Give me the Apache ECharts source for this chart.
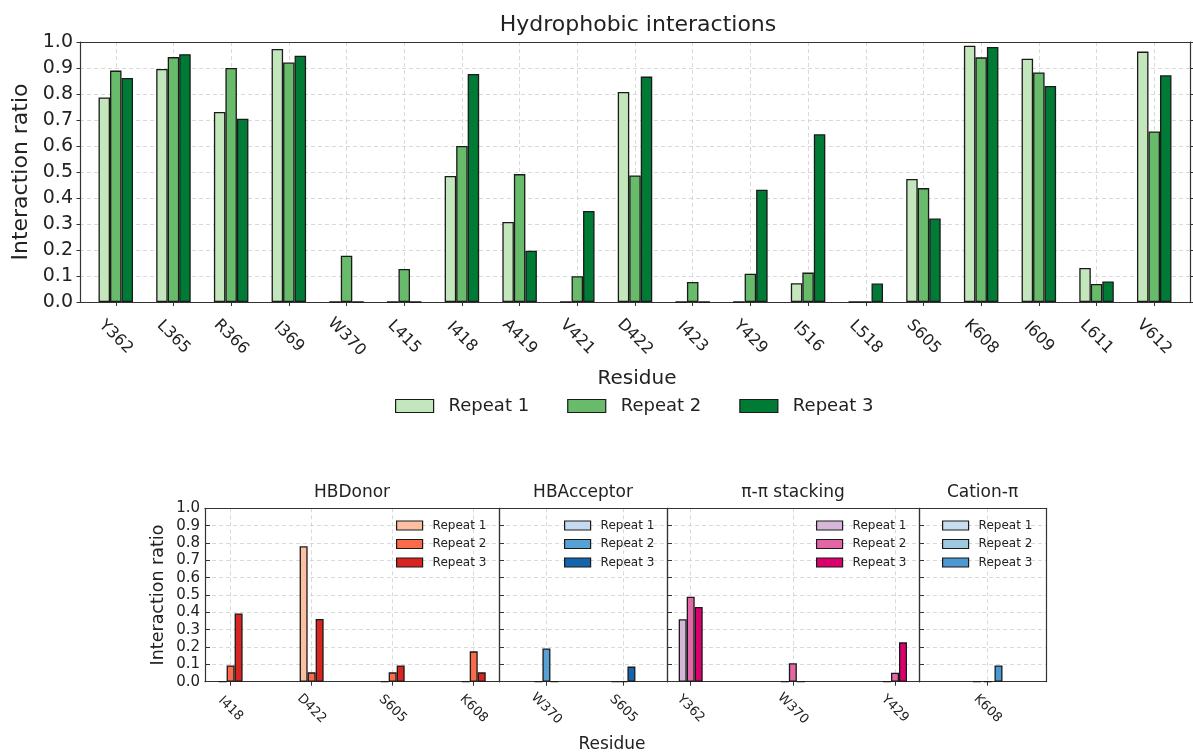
<!DOCTYPE html>
<html><head><meta charset="utf-8">
<script src="https://cdn.jsdelivr.net/npm/echarts@6/dist/echarts.min.js"></script>
<style>html,body{margin:0;padding:0;background:#fff}#c{width:1193px;height:755px}</style>
</head><body><div id="c"></div>
<script>
// ---------- data ----------
const residues = ['Y362','L365','R366','I369','W370','L415','I418','A419','V421','D422','I423','Y429','I516','L518','S605','K608','I609','L611','V612'];
const hydroR1 = [0.787,0.896,0.731,0.973,0,0,0.485,0.308,0,0.808,0,0,0.072,0,0.473,0.986,0.936,0.131,0.963];
const hydroR2 = [0.890,0.942,0.900,0.921,0.178,0.127,0.600,0.492,0.099,0.487,0.077,0.109,0.113,0,0.438,0.941,0.883,0.069,0.656];
const hydroR3 = [0.862,0.953,0.705,0.947,0,0,0.877,0.197,0.350,0.867,0,0.432,0.645,0.071,0.321,0.981,0.831,0.079,0.872];

const donorRes = ['I418','D422','S605','K608'];
const donorR1 = [0,0.781,0,0];
const donorR2 = [0.094,0.054,0.054,0.175];
const donorR3 = [0.394,0.362,0.094,0.054];

const accRes = ['W370','S605'];
const accR1 = [0,0];
const accR2 = [0.192,0];
const accR3 = [0,0.087];

const piRes = ['Y362','W370','Y429'];
const piR1 = [0.360,0,0];
const piR2 = [0.490,0.106,0.052];
const piR3 = [0.431,0,0.227];

const catRes = ['K608'];
const catR1 = [0];
const catR2 = [0];
const catR3 = [0.094];

const seriesNames = ['Repeat 1','Repeat 2','Repeat 3'];
const panelTitles = ['HBDonor','HBAcceptor','π-π stacking','Cation-π'];

// ---------- style ----------
const FONT = 'DejaVu Sans';
const EDGE = '#1a1a1a';
const FRAME = '#333';
const TXT = '#222';
const greens = ['#c4e6bd','#68bb6b','#007b35'];
const reds = ['#fdbfa2','#fb6b4b','#d92522'];
const blues = ['#c6dbef','#58a1d5','#1565ad'];
const pinks = ['#d7b7d9','#e366a7','#dc006f'];
const lblues = ['#c9ddf0','#9ecae1','#4c99d1'];

const grids = [], xAxes = [], yAxes = [], series = [], legends = [];
const grid_line = {show:true, lineStyle:{type:[4,3], color:'#cfcfcf', width:0.8}};

function addPanel(cfg) {
  const gi = grids.length;
  grids.push({left:cfg.left, top:cfg.top, width:cfg.width, height:cfg.height, containLabel:false});
  const idx = cfg.names.map((_, i) => i);
  const xi = xAxes.length;
  xAxes.push({type:'value', gridIndex:gi, min:cfg.xmin, max:cfg.xmax, position:'bottom',
    axisLine:{show:true, onZero:false, lineStyle:{color:FRAME, width:1.2}},
    axisTick:{show:true, length:4, customValues:idx, lineStyle:{color:FRAME, width:1}},
    axisLabel:{show:true, customValues:idx, formatter:v => cfg.names[Math.round(v)] || '',
      rotate:-45, align:'center', verticalAlign:'middle', margin:cfg.xMargin,
      fontSize:cfg.xFont, fontFamily:FONT, color:TXT},
    splitLine:grid_line});
  xAxes.push({type:'value', gridIndex:gi, min:cfg.xmin, max:cfg.xmax, position:'top',
    axisLine:{show:true, onZero:false, lineStyle:{color:FRAME, width:1.2}},
    axisTick:{show:false}, axisLabel:{show:false}, splitLine:{show:false}});
  const yi = yAxes.length;
  yAxes.push({type:'value', gridIndex:gi, min:0, max:1, interval:0.1, position:'left',
    axisLine:{show:true, onZero:false, lineStyle:{color:FRAME, width:1.2}},
    axisTick:{show:true, inside:cfg.yTickInside, length:cfg.yTickLen, lineStyle:{color:FRAME}},
    axisLabel:{show:cfg.yLabels, formatter:v => v.toFixed(1), fontSize:cfg.yFont, fontFamily:FONT, color:TXT, margin:cfg.yMargin},
    splitLine:Object.assign({}, grid_line, {showMinLine:false, showMaxLine:false})});
  yAxes.push({type:'value', gridIndex:gi, min:0, max:1, interval:0.1, position:'right',
    axisLine:{show:true, onZero:false, lineStyle:{color:FRAME, width:1.2}},
    axisTick:{show:cfg.rightTicks, length:4, lineStyle:{color:FRAME}},
    axisLabel:{show:false}, splitLine:{show:false}});
  cfg.values.forEach((vals, k) => {
    series.push({type:'bar', name:seriesNames[k], xAxisIndex:xi, yAxisIndex:yi,
      data: vals.map((v, i) => [i, v]),
      barWidth:cfg.barWidth, barGap:cfg.barGap,
      itemStyle:{color:cfg.colors[k], borderColor:EDGE, borderWidth:1.3},
      emphasis:{disabled:true}, animation:false});
  });
  if (cfg.legend) {
    legends.push(Object.assign({
      selectedMode:false, icon:'rect', padding:0,
      data: seriesNames.map((n, k) => ({name:n, itemStyle:{color:cfg.colors[k], borderColor:EDGE, borderWidth:1.2}}))
    }, cfg.legend));
  }
}

// Top panel
addPanel({left:80, top:42, width:1110, height:260, xmin:-0.62, xmax:18.62,
  names:residues, values:[hydroR1, hydroR2, hydroR3], colors:greens,
  barWidth:11.5, barGap:'0%', xFont:16, xMargin:35, yFont:19, yMargin:7, yLabels:true,
  yTickInside:false, yTickLen:3.5, rightTicks:true,
  legend:{left:395, top:397, orient:'horizontal', itemWidth:38, itemHeight:13, itemGap:38,
    textStyle:{fontSize:18, fontFamily:FONT, color:TXT, padding:[0,0,0,10]}}});

const bTop = 508.3, bH = 173.4;
const smallLegend = (left) => ({left:left, top:519.5, orient:'vertical', itemWidth:26, itemHeight:9, itemGap:6.5,
  textStyle:{fontSize:12, fontFamily:FONT, color:TXT, padding:[0,0,0,5]}});

addPanel({left:205, top:bTop, width:294, height:bH, xmin:-0.316, xmax:3.312,
  names:donorRes, values:[donorR1, donorR2, donorR3], colors:reds,
  barWidth:8, barGap:'0%', xFont:13, xMargin:27, yFont:15, yMargin:5, yLabels:true,
  yTickInside:true, yTickLen:5, rightTicks:false, legend:smallLegend(396)});
addPanel({left:499, top:bTop, width:168, height:bH, xmin:-0.616, xmax:1.566,
  names:accRes, values:[accR1, accR2, accR3], colors:blues,
  barWidth:8, barGap:'0%', xFont:13, xMargin:27, yFont:15, yMargin:5, yLabels:false,
  yTickInside:true, yTickLen:5, rightTicks:false, legend:smallLegend(564)});
addPanel({left:667, top:bTop, width:252, height:bH, xmin:-0.232, xmax:2.235,
  names:piRes, values:[piR1, piR2, piR3], colors:pinks,
  barWidth:8, barGap:'0%', xFont:13, xMargin:27, yFont:15, yMargin:5, yLabels:false,
  yTickInside:true, yTickLen:5, rightTicks:false, legend:smallLegend(816)});
addPanel({left:919, top:bTop, width:127, height:bH, xmin:-0.687, xmax:0.583,
  names:catRes, values:[catR1, catR2, catR3], colors:lblues,
  barWidth:8, barGap:'35%', xFont:13, xMargin:27, yFont:15, yMargin:5, yLabels:false,
  yTickInside:true, yTickLen:5, rightTicks:false, legend:smallLegend(942)});

function txt(text, x, y, size, rot) {
  return {type:'text', x:x, y:y, rotation:rot || 0, silent:true,
    style:{text:text, fill:TXT, font:size + 'px "' + FONT + '"', align:'center', verticalAlign:'middle'}};
}
const graphics = [
  txt('Hydrophobic interactions', 638, 25, 22),
  txt('Interaction ratio', 21, 172, 22, Math.PI/2),
  txt('Residue', 637, 379, 20),
  txt(panelTitles[0], 352, 493, 17),
  txt(panelTitles[1], 583, 493, 17),
  txt(panelTitles[2], 793, 493, 17),
  txt(panelTitles[3], 982.5, 493, 17),
  txt('Interaction ratio', 158.5, 595, 17.5, Math.PI/2),
  txt('Residue', 612, 745, 17)
];

const chart = echarts.init(document.getElementById('c'), null, {renderer:'canvas'});
chart.setOption({
  animation:false,
  backgroundColor:'#fff',
  textStyle:{fontFamily:FONT},
  grid:grids, xAxis:xAxes, yAxis:yAxes, series:series, legend:legends,
  graphic:graphics
});
</script></body></html>
